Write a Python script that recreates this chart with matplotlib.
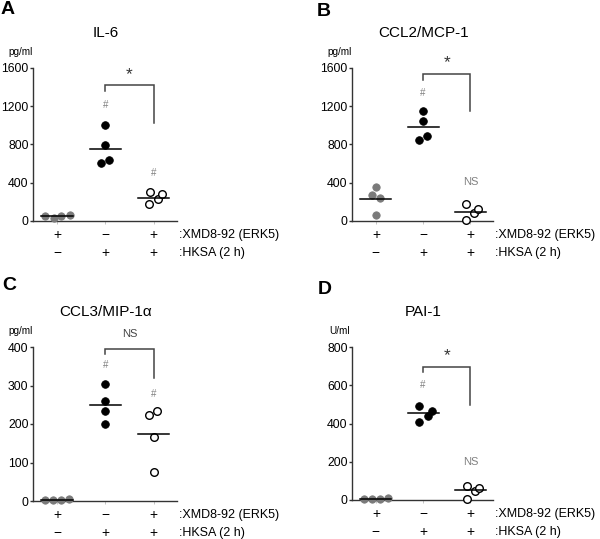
import matplotlib
matplotlib.use("Agg")
import matplotlib.pyplot as plt

plt.rcParams['font.family'] = ['Liberation Sans', 'DejaVu Sans']

# ---------------- data ----------------
groups = [0, 1, 2]
xmd_row = ['+', '\u2212', '+']
hksa_row = ['\u2212', '+', '+']
row_labels = [':XMD8-92 (ERK5)', ':HKSA (2 h)']

titles = ['IL-6', 'CCL2/MCP-1', 'CCL3/MIP-1\u03b1', 'PAI-1']
letters = ['A', 'B', 'C', 'D']
units = ['pg/ml', 'pg/ml', 'pg/ml', 'U/ml']
yticks = [[0, 400, 800, 1200, 1600], [0, 400, 800, 1200, 1600],
          [0, 100, 200, 300, 400], [0, 200, 400, 600, 800]]

# values per group (control+XMD, HKSA, HKSA+XMD)
A_vals = [[52, 28, 52, 66], [1005, 790, 602, 637], [299, 174, 226, 285]]
B_vals = [[358, 268, 237, 66], [1148, 1043, 849, 883], [181, 87, 122, 7]]
C_vals = [[3, 2, 3, 4], [304, 259, 235, 201], [223, 235, 167, 76]]
D_vals = [[5, 4, 4, 8], [493, 441, 466, 410], [75, 47, 64, 5]]

A_med = [49, 755, 243]
B_med = [230, 981, 97]
C_med = [2, 249, 175]
D_med = [5, 457, 51]

# annotations: bracket (top, left-leg bottom, right-leg bottom), label above bracket
bracket_A = [1419, 1357, 1019]
bracket_B = [1537, 1471, 1148]
bracket_C = [396, 383, 320]
bracket_D = [695, 667, 497]
bracket_text = ['*', '*', 'NS', '*']
bracket_text_y = [1530, 1650, 433, 757]
# marks above groups 2 and 3
mark2 = [('#', 1210), ('#', 1339), ('#', 353), ('#', 603)]
mark3 = [('#', 497), ('NS', 410), ('#', 277), ('NS', 200)]

# jitter offsets (style)
jit = [
    [[-0.25, -0.076, 0.083, 0.26], [0, 0, -0.1, 0.076], [-0.083, -0.09, 0.083, 0.17]],
    [[0, -0.09, 0.083, 0], [0, 0, -0.09, 0.083], [-0.09, 0.07, 0.16, -0.09]],
    [[-0.25, -0.083, 0.083, 0.24], [0, 0, 0, 0], [-0.1, 0.07, 0, 0]],
    [[-0.26, -0.09, 0.083, 0.26], [-0.083, 0.1, 0.19, -0.083], [-0.076, 0.1, 0.19, -0.076]],
]

all_vals = [A_vals, B_vals, C_vals, D_vals]
all_med = [A_med, B_med, C_med, D_med]
all_br = [bracket_A, bracket_B, bracket_C, bracket_D]

# ---------------- layout ----------------
W, H = 600, 539
fig = plt.figure(figsize=(W / 100, H / 100), dpi=100)

# axes pixel boxes: left, right, y0 (bottom), ytop
boxes = [(33.3, 176.7, 221, 67.7), (352.3, 493, 221, 67.7),
         (33.3, 176.7, 501, 347), (352.3, 493, 500, 347)]
letter_pos = [(8, 10), (324, 11), (9, 285), (325, 290)]

spine_col = '#333333'
gray_pt = '#7a7a7a'
mark_col = '#808080'

for i in range(4):
    l, r, y0, yt = boxes[i]
    ax = fig.add_axes([l / W, 1 - y0 / H, (r - l) / W, (y0 - yt) / H])
    ymax = yticks[i][-1]
    ax.set_xlim(-0.5, 2.48)
    ax.set_ylim(0, ymax)
    for s in ['top', 'right']:
        ax.spines[s].set_visible(False)
    for s in ['left', 'bottom']:
        ax.spines[s].set_color(spine_col)
        ax.spines[s].set_linewidth(1.0)
    ax.set_yticks(yticks[i])
    ax.set_yticklabels([str(t) for t in yticks[i]], fontsize=8.8)
    ax.tick_params(axis='y', direction='out', length=2.2, width=1, color=spine_col, pad=1.2)
    ax.set_xticks(groups)
    ax.set_xticklabels([])
    ax.tick_params(axis='x', direction='out', length=2, width=0.6, color='#bbbbbb')
    ax.patch.set_alpha(0)

    vals = all_vals[i]
    for g in groups:
        xs = [g + o for o in jit[i][g]]
        if g == 0:
            ax.scatter(xs, vals[g], s=28, color=gray_pt, edgecolors=gray_pt,
                       linewidths=0.6, zorder=3, clip_on=False)
        elif g == 1:
            ax.scatter(xs, vals[g], s=30, color='black', edgecolors='black',
                       linewidths=0.6, zorder=3, clip_on=False)
        else:
            ax.scatter(xs, vals[g], s=30, facecolors='white', edgecolors='black',
                       linewidths=1.0, zorder=3, clip_on=False)
        ax.plot([g - 0.33, g + 0.33], [all_med[i][g]] * 2, color='black', lw=1.1,
                zorder=4, clip_on=False)

    # bracket
    top, lb, rb = all_br[i]
    ax.plot([1, 1, 2, 2], [lb, top, top, rb], color='#444444', lw=1.1,
            clip_on=False, solid_joinstyle='miter')
    bt = bracket_text[i]
    if bt == '*':
        ax.text(1.5, bracket_text_y[i], '*', ha='center', va='center', fontsize=12.5,
                color='#333333', clip_on=False)
    else:
        ax.text(1.5, bracket_text_y[i], bt, ha='center', va='center', fontsize=8,
                color='#444444', clip_on=False)
    for g, (txt, yv) in zip([1, 2], [mark2[i], mark3[i]]):
        ax.text(g, yv, txt, ha='center', va='center',
                fontsize=7 if txt == '#' else 8, color=mark_col, clip_on=False)

    # condition rows
    for g in groups:
        ax.annotate(xmd_row[g], xy=(g, 0), xycoords=('data', 'axes fraction'),
                    xytext=(0, -10), textcoords='offset points', ha='center',
                    va='center', fontsize=10, annotation_clip=False)
        ax.annotate(hksa_row[g], xy=(g, 0), xycoords=('data', 'axes fraction'),
                    xytext=(0, -23), textcoords='offset points', ha='center',
                    va='center', fontsize=10, annotation_clip=False)
    for k, lab in enumerate(row_labels):
        ax.annotate(lab, xy=(2.52, 0), xycoords=('data', 'axes fraction'),
                    xytext=(0, -10 - 13 * k), textcoords='offset points', ha='left',
                    va='center', fontsize=9, annotation_clip=False)

    # title, unit, letter
    ax.annotate(titles[i], xy=(1, 1), xycoords=('data', 'axes fraction'),
                xytext=(0, 25), textcoords='offset points', ha='center',
                va='center', fontsize=11, annotation_clip=False)
    ax.annotate(units[i], xy=(0, 1), xycoords='axes fraction',
                xytext=(-9.5, 11.5), textcoords='offset points', ha='center',
                va='center', fontsize=7.2, annotation_clip=False)
    lx, ly = letter_pos[i]
    fig.text(lx / W, 1 - ly / H, letters[i], ha='center', va='center',
             fontsize=14, fontweight='bold')

fig.savefig('out.png', dpi=100)
